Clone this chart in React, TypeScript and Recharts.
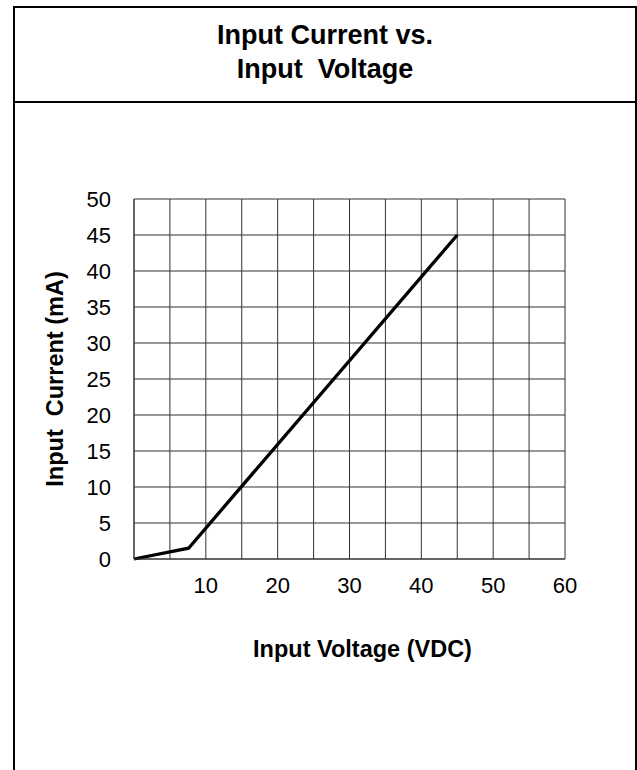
import React from 'react';
import { LineChart, Line, XAxis, YAxis, CartesianGrid, Label } from 'recharts';

// Data
const inputVoltage = [0, 7.6, 45];
const inputCurrent = [0, 1.5, 45];

// Axis ticks
const xGridTicks = [0, 5, 10, 15, 20, 25, 30, 35, 40, 45, 50, 55, 60];
const xTickLabels = [10, 20, 30, 40, 50, 60];
const yTicks = [0, 5, 10, 15, 20, 25, 30, 35, 40, 45, 50];

const titleLines = ['Input Current vs.', 'Input  Voltage'];
const xTitle = 'Input Voltage (VDC)';
const yTitle = 'Input\u00A0 Current (mA)';

const data = inputVoltage.map((v, i) => ({ v, c: inputCurrent[i] }));

const FONT = '"Liberation Sans", Arial, Helvetica, sans-serif';
const GRID = '#333';

export default function App() {
  return (
    <div
      style={{
        position: 'absolute',
        left: 0,
        top: 0,
        width: 637,
        height: 770,
        overflow: 'hidden',
        background: '#fff',
        fontFamily: FONT,
      }}
    >
      <div
        style={{
          position: 'absolute',
          left: 13,
          top: 6,
          width: 624,
          height: 900,
          border: '2px solid #000',
          boxSizing: 'border-box',
        }}
      />
      <div
        style={{
          position: 'absolute',
          left: 13,
          top: 101,
          width: 624,
          height: 2,
          background: '#000',
        }}
      />
      <div
        style={{
          position: 'absolute',
          left: 13,
          top: 18,
          width: 624,
          textAlign: 'center',
          fontSize: 27,
          lineHeight: '34px',
          fontWeight: 700,
          whiteSpace: 'pre',
          color: '#000',
        }}
      >
        {titleLines.map((t) => (
          <div key={t}>{t}</div>
        ))}
      </div>
      <div style={{ position: 'absolute', left: 0, top: 0 }}>
        <LineChart
          width={637}
          height={770}
          data={data}
          margin={{ top: 199, right: 72, bottom: 101, left: 44 }}
        >
          <CartesianGrid stroke={GRID} strokeWidth={1} />
          <XAxis
            dataKey="v"
            type="number"
            domain={[0, 60]}
            ticks={xGridTicks}
            interval={0}
            height={110}
            tickLine={false}
            tickSize={6}
            tickMargin={12}
            axisLine={{ stroke: GRID }}
            tickFormatter={(v: number) => (xTickLabels.includes(v) ? String(v) : '')}
            tick={{ fill: '#000', fontSize: 22, fontFamily: FONT }}
          >
            <Label
              value={xTitle}
              position="insideBottom"
              offset={12}
              dx={13}
              fill="#000"
              fontSize={23.5}
              fontWeight={700}
              fontFamily={FONT}
            />
          </XAxis>
          <YAxis
            type="number"
            domain={[0, 50]}
            ticks={yTicks}
            interval={0}
            width={90}
            tickLine={false}
            tickSize={6}
            tickMargin={17}
            axisLine={{ stroke: GRID }}
            tick={{ fill: '#000', fontSize: 22, fontFamily: FONT }}
          >
            <Label
              value={yTitle}
              angle={-90}
              position="insideLeft"
              offset={11}
              fill="#000"
              fontSize={23.5}
              fontWeight={700}
              fontFamily={FONT}
              style={{ textAnchor: 'middle' }}
            />
          </YAxis>
          <Line
            type="linear"
            dataKey="c"
            stroke="#000"
            strokeWidth={3.3}
            dot={false}
            activeDot={false}
            isAnimationActive={false}
          />
        </LineChart>
      </div>
    </div>
  );
}
